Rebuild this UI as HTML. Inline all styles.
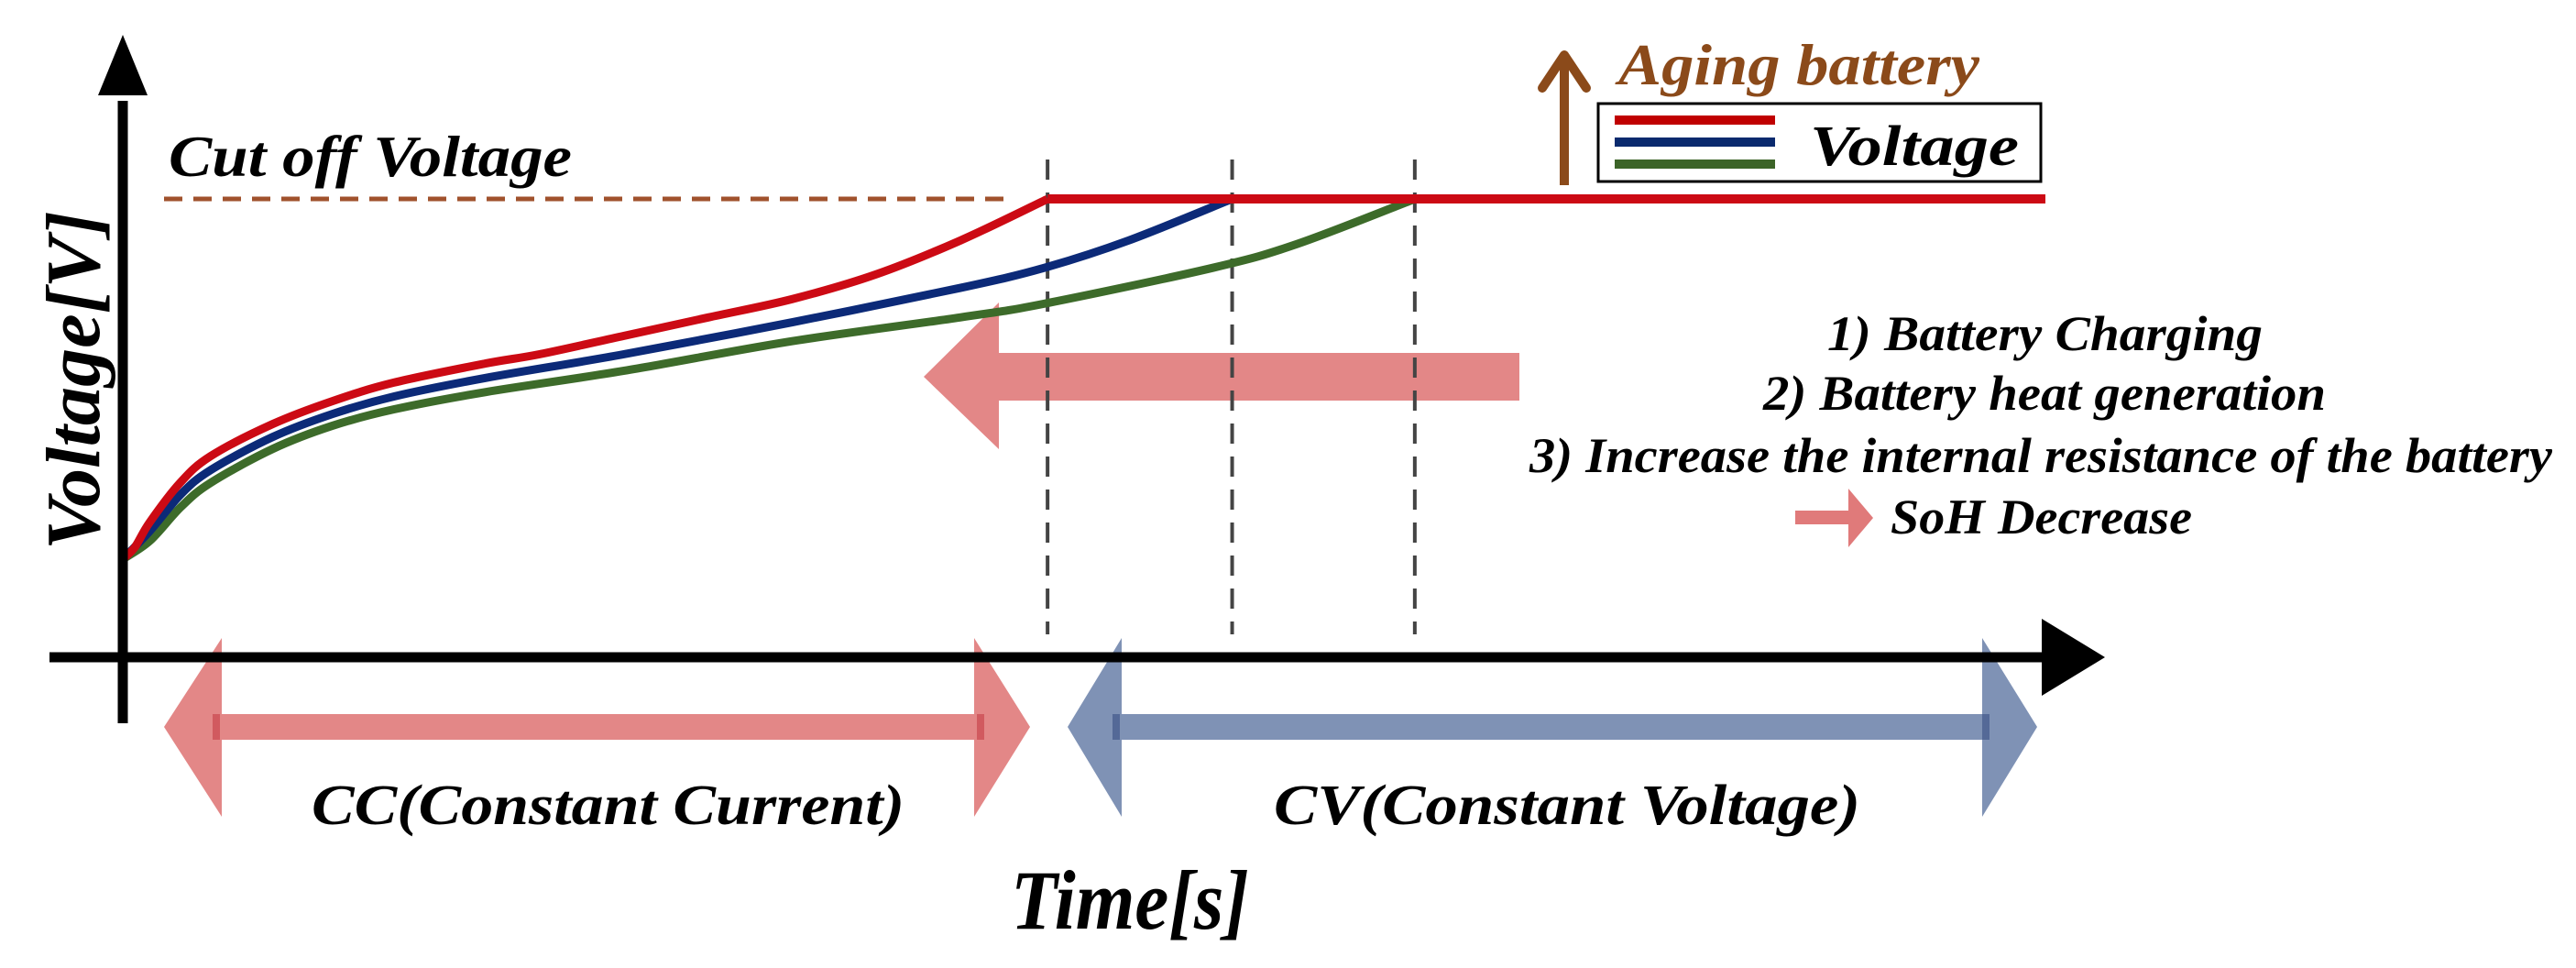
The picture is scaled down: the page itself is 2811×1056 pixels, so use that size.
<!DOCTYPE html>
<html><head><meta charset="utf-8"><style>
html,body{margin:0;padding:0;background:#fff}
svg{display:block}
text{font-family:"Liberation Serif",serif;font-style:italic;font-weight:bold}
</style></head><body>
<svg id="chart" width="2811" height="1056" viewBox="0 0 2811 1056" xmlns="http://www.w3.org/2000/svg">
  <g id="bg">
    <polygon points="1658,385 1090,385 1090,330 1008,411 1090,490 1090,437 1658,437" fill="#e07a7a" fill-opacity="0.9"/>
    <polygon points="242,779 1063,779 1063,696 1124,793 1063,891 1063,807 242,807 242,891 179,793 242,696" fill="#e07a7a" fill-opacity="0.9"/>
    <rect x="232" y="779" width="8" height="28" fill="#cc4f55" opacity="0.8"/>
    <rect x="1066" y="779" width="8" height="28" fill="#cc4f55" opacity="0.8"/>
    <polygon points="1224,779 2163,779 2163,696 2223,793 2163,891 2163,807 1224,807 1224,891 1165,793 1224,696" fill="#7f92b5"/>
    <rect x="1214" y="779" width="8" height="28" fill="#4a5f90" opacity="0.8"/>
    <rect x="2163" y="779" width="8" height="28" fill="#4a5f90" opacity="0.8"/>
    <polygon points="1959,557 2017,557 2017,533 2044,565 2017,597 2017,572 1959,572" fill="#e07a7a"/>
  </g>
  <g id="vlines"></g>
  <line x1="179" y1="217" x2="1103" y2="217" stroke="#a0522d" stroke-width="5" stroke-dasharray="20,12"/>
  <g id="curves"></g>
  <line x1="134" y1="110" x2="134" y2="789" stroke="#000" stroke-width="11"/>
  <polygon points="134,38 107,104 161,104" fill="#000"/>
  <line x1="54" y1="717" x2="2230" y2="717" stroke="#000" stroke-width="11"/>
  <polygon points="2297,717 2228,675 2228,759" fill="#000"/>
  <text transform="translate(108,600) rotate(-90)" font-size="84" textLength="370" lengthAdjust="spacingAndGlyphs">Voltage[V]</text>
  <text x="1103" y="1013" font-size="92" textLength="260" lengthAdjust="spacingAndGlyphs">Time[s]</text>
  <text x="184" y="192" font-size="64" font-weight="normal" textLength="440" lengthAdjust="spacingAndGlyphs">Cut off Voltage</text>
  <text x="340" y="899" font-size="62" textLength="647" lengthAdjust="spacingAndGlyphs">CC(Constant Current)</text>
  <text x="1390" y="899" font-size="62" textLength="640" lengthAdjust="spacingAndGlyphs">CV(Constant Voltage)</text>
  <text x="1994" y="382" font-size="54" textLength="475" lengthAdjust="spacingAndGlyphs">1) Battery Charging</text>
  <text x="1924" y="447" font-size="54" textLength="614" lengthAdjust="spacingAndGlyphs">2) Battery heat generation</text>
  <text x="1669" y="515" font-size="54" textLength="1116" lengthAdjust="spacingAndGlyphs">3) Increase the internal resistance of the battery</text>
  <text x="2063" y="582" font-size="54" textLength="329" lengthAdjust="spacingAndGlyphs">SoH Decrease</text>
  <line x1="1707" y1="202" x2="1707" y2="62" stroke="#8b4a1a" stroke-width="10"/>
  <polyline points="1683,96 1707,60 1731,96" fill="none" stroke="#8b4a1a" stroke-width="10" stroke-linecap="round" stroke-linejoin="round"/>
  <text x="1766" y="92" font-size="64" fill="#8b4a1a" font-weight="normal" textLength="394" lengthAdjust="spacingAndGlyphs">Aging battery</text>
  <g>
    <rect x="1744" y="113" width="483" height="85" fill="#fff" stroke="#000" stroke-width="3"/>
    <rect x="1762" y="126" width="175" height="10" fill="#c00000"/>
    <rect x="1762" y="150" width="175" height="10" fill="#0a2a6e"/>
    <rect x="1762" y="174" width="175" height="10" fill="#3c6428"/>
    <text x="1975" y="180" font-size="62" textLength="228" lengthAdjust="spacingAndGlyphs">Voltage</text>
  </g>
</svg>
<script>
// time as fraction of each series' CC duration, voltage normalized (0 = start, 1 = cutoff)
const redT   = [0, 0.013, 0.029, 0.062, 0.095, 0.162, 0.227, 0.293, 0.392, 0.451, 0.542, 0.633, 0.724, 0.815, 0.906, 1];
const redV   = [0, 0.033, 0.102, 0.212, 0.286, 0.375, 0.439, 0.490, 0.543, 0.569, 0.620, 0.671, 0.722, 0.791, 0.885, 1];
const blueT  = [0, 0.024, 0.052, 0.079, 0.135, 0.189, 0.245, 0.327, 0.452, 0.604, 0.755, 0.831, 0.907, 1];
const blueV  = [0, 0.077, 0.179, 0.247, 0.339, 0.403, 0.452, 0.503, 0.569, 0.658, 0.753, 0.809, 0.885, 1];
const greenT = [0, 0.021, 0.045, 0.068, 0.116, 0.162, 0.210, 0.281, 0.388, 0.518, 0.648, 0.713, 0.844, 0.909, 1];
const greenV = [0, 0.051, 0.145, 0.212, 0.306, 0.370, 0.416, 0.464, 0.523, 0.605, 0.671, 0.709, 0.809, 0.875, 1];
// CC end times (fraction of full time axis) per aging state
const ccEnd = [0.481, 0.577, 0.672];
const seriesNames = ['red', 'blue', 'green'];
const endTime = 1.0;

const NS = 'http://www.w3.org/2000/svg';
const X0 = 134, X1 = 2232, Y0 = 610, Y1 = 217;
function xs(t){ return X0 + t * (X1 - X0); }
function ys(v){ return Y0 - v * (Y0 - Y1); }

function smoothPath(pts){
  let d = 'M' + pts[0][0] + ',' + pts[0][1];
  for (let i = 0; i < pts.length - 1; i++) {
    const p0 = pts[Math.max(0, i - 1)], p1 = pts[i], p2 = pts[i + 1], p3 = pts[Math.min(pts.length - 1, i + 2)];
    const c1x = p1[0] + (p2[0] - p0[0]) / 6, c1y = p1[1] + (p2[1] - p0[1]) / 6;
    const c2x = p2[0] - (p3[0] - p1[0]) / 6, c2y = p2[1] - (p3[1] - p1[1]) / 6;
    d += ' C' + c1x + ',' + c1y + ' ' + c2x + ',' + c2y + ' ' + p2[0] + ',' + p2[1];
  }
  return d;
}

const colors = ['#cc0a14', '#0c2a78', '#3d6b2a'];
const times = [redT, blueT, greenT];
const vals = [redV, blueV, greenV];
const curves = document.getElementById('curves');
const vlines = document.getElementById('vlines');

ccEnd.forEach((t, i) => {
  const l = document.createElementNS(NS, 'line');
  l.setAttribute('x1', xs(t)); l.setAttribute('x2', xs(t));
  l.setAttribute('y1', 174); l.setAttribute('y2', 692);
  l.setAttribute('stroke', '#444'); l.setAttribute('stroke-width', 4);
  l.setAttribute('stroke-dasharray', '22,14');
  
  
  vlines.appendChild(l);
});

for (let k = 2; k >= 0; k--) {
  const pts = times[k].map((f, i) => [xs(f * ccEnd[k]), ys(vals[k][i])]);
  const p = document.createElementNS(NS, 'path');
  p.setAttribute('d', smoothPath(pts));
  p.setAttribute('fill', 'none');
  p.setAttribute('stroke', colors[k]);
  p.setAttribute('stroke-width', 9);
  
  
  curves.appendChild(p);
}
const flat = document.createElementNS(NS, 'line');
flat.setAttribute('x1', xs(ccEnd[0])); flat.setAttribute('x2', xs(endTime));
flat.setAttribute('y1', ys(1)); flat.setAttribute('y2', ys(1));
flat.setAttribute('stroke', '#cc0a14'); flat.setAttribute('stroke-width', 10);


curves.appendChild(flat);
</script>
</body></html>
